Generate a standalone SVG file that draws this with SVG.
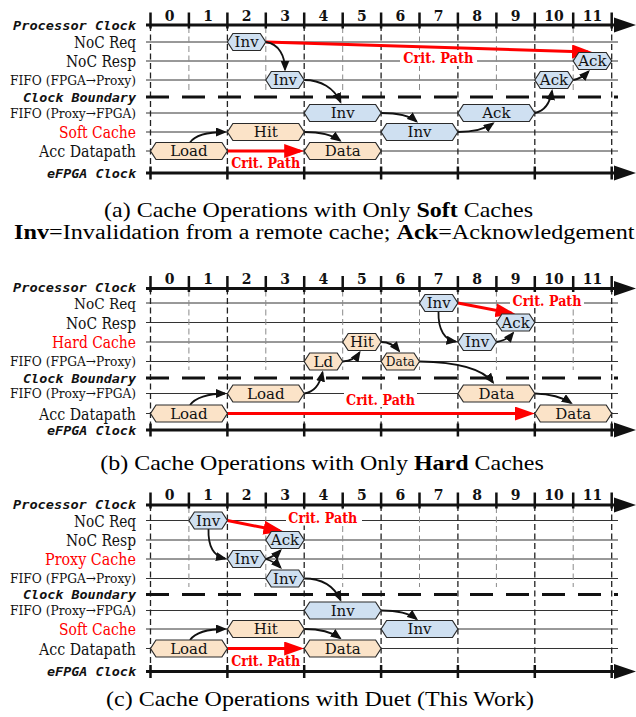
<svg xmlns="http://www.w3.org/2000/svg" width="636" height="717" viewBox="0 0 636 717">
<defs>
<style>
.row{stroke:#333;stroke-width:1;fill:none}
.vd{stroke:#222;stroke-width:1.3;stroke-dasharray:6 3.5;fill:none}
.vo{stroke:#8a8a8a;stroke-width:1;stroke-dasharray:6 3.5;fill:none}
.cb{stroke:#111;stroke-width:3;stroke-dasharray:23 13;fill:none}
.ax{stroke:#111;stroke-width:3;fill:none}
.tk{stroke:#111;stroke-width:2.5;fill:none}
.ah{fill:#111}
.lbl{font-family:"DejaVu Serif","Liberation Serif",serif;font-size:16px;fill:#111;text-anchor:end}
.fifo{font-size:13px}
.tight{font-size:15px}
.redt{fill:#f00}
.mono{font-family:"DejaVu Sans Mono","Liberation Mono",monospace;font-style:oblique;font-weight:bold;font-size:12.5px;fill:#111;text-anchor:end}
.num{font-family:"DejaVu Serif","Liberation Serif",serif;font-weight:bold;font-size:14px;fill:#111;text-anchor:middle}
.blue{fill:#cfe0f1;stroke:#2a2a2a;stroke-width:1.2}
.tan{fill:#fbe3c8;stroke:#2a2a2a;stroke-width:1.2}
.nt{font-family:"DejaVu Serif","Liberation Serif",serif;font-size:15px;fill:#111;text-anchor:middle}
.sm{font-size:12.5px}
.crit{font-family:"DejaVu Serif","Liberation Serif",serif;font-weight:bold;font-size:14px;fill:#f00;text-anchor:middle}
.bg{fill:#fff}
.cap{font-family:"Liberation Serif","Times New Roman",serif;font-size:20px;fill:#000;text-anchor:middle}
.arr{fill:none;stroke:#111;stroke-width:1.8;marker-end:url(#ab)}
.red{fill:none;stroke:#f00;stroke-width:3;marker-end:url(#ar)}
</style>
<marker id="ab" markerUnits="userSpaceOnUse" markerWidth="11" markerHeight="9" refX="9" refY="4.5" orient="auto"><path d="M0,0 L11,4.5 L0,9 z" fill="#111"/></marker>
<marker id="ar" markerUnits="userSpaceOnUse" markerWidth="20" markerHeight="14" refX="16" refY="7" orient="auto"><path d="M0,0 L20,7 L0,14 z" fill="#f00"/></marker>
</defs>
<rect x="0" y="0" width="636" height="717" fill="#fff"/>

<!-- ===== Panel (a) ===== -->
<g id="grid-a">
<path class="row" d="M146,42H618 M146,61H618 M146,80H618 M146,113H618 M146,132H618 M146,151H618"/>
<path class="vo" d="M188.9,27V90 M265.8,27V90 M342.7,27V90 M419.5,27V90 M496.4,27V90 M573.2,27V90"/>
<path class="vd" d="M150.5,25V173 M227.4,25V173 M304.2,25V173 M381.1,25V173 M457.9,25V173 M534.8,25V173 M611.7,25V173"/>
<path class="cb" d="M146,97H618"/>
<path class="ax" d="M146,25H616 M146,173H616"/>
<polygon class="ah" points="614,17.5 636,25 614,32.5"/>
<polygon class="ah" points="614,165.5 636,173 614,180.5"/>
<path class="tk" d="M150.5,12.5V28.5 M188.9,12.5V28.5 M227.4,12.5V28.5 M265.8,12.5V28.5 M304.2,12.5V28.5 M342.7,12.5V28.5 M381.1,12.5V28.5 M419.5,12.5V28.5 M457.9,12.5V28.5 M496.4,12.5V28.5 M534.8,12.5V28.5 M573.2,12.5V28.5 M611.7,12.5V28.5"/>
<path class="tk" d="M150.5,166.5V179.5 M227.4,166.5V179.5 M304.2,166.5V179.5 M381.1,166.5V179.5 M457.9,166.5V179.5 M534.8,166.5V179.5 M611.7,166.5V179.5"/>
<g class="num">
<text x="169.7" y="20.5">0</text><text x="208.1" y="20.5">1</text><text x="246.6" y="20.5">2</text><text x="285" y="20.5">3</text><text x="323.4" y="20.5">4</text><text x="361.9" y="20.5">5</text><text x="400.3" y="20.5">6</text><text x="438.7" y="20.5">7</text><text x="477.1" y="20.5">8</text><text x="515.6" y="20.5">9</text><text x="554" y="20.5">10</text><text x="592.4" y="20.5">11</text>
</g>
<text class="mono" x="136" y="29.5" textLength="123" lengthAdjust="spacingAndGlyphs">Processor Clock</text>
<text class="lbl" x="136" y="48" textLength="62" lengthAdjust="spacingAndGlyphs">NoC Req</text>
<text class="lbl" x="136" y="67" textLength="70" lengthAdjust="spacingAndGlyphs">NoC Resp</text>
<text class="lbl fifo" x="136" y="84.8" textLength="126" lengthAdjust="spacingAndGlyphs">FIFO (FPGA→Proxy)</text>
<text class="mono" x="136" y="101.5" textLength="113" lengthAdjust="spacingAndGlyphs">Clock Boundary</text>
<text class="lbl fifo" x="136" y="117.8" textLength="126" lengthAdjust="spacingAndGlyphs">FIFO (Proxy→FPGA)</text>
<text class="lbl redt" x="136" y="138" textLength="77" lengthAdjust="spacingAndGlyphs">Soft Cache</text>
<text class="lbl" x="136" y="157" textLength="97" lengthAdjust="spacingAndGlyphs">Acc Datapath</text>
<text class="mono" x="136" y="177.5" textLength="89" lengthAdjust="spacingAndGlyphs">eFPGA Clock</text>
</g>

<g id="connectors-a">
<rect class="bg" x="400" y="50" width="77" height="16"/>
<path class="red" d="M266,42 L588,52"/>
<text class="crit" x="438.3" y="62.5" textLength="70" lengthAdjust="spacingAndGlyphs">Crit. Path</text>
<path class="red" d="M227.4,151 L300.2,151"/>
<text class="crit" x="265.7" y="168" textLength="69" lengthAdjust="spacingAndGlyphs">Crit. Path</text>
<path class="arr" d="M190,142.5 C195,135 208,132 225,132"/>
<path class="arr" d="M266,42 C279,44 285,56 285,69.5"/>
<path class="arr" d="M304.2,80 C321,80 334,88 340.5,102"/>
<path class="arr" d="M381.1,113 C397,113 409,115 416.5,121.5"/>
<path class="arr" d="M304.2,132 C318,132 331,134 340,140.5"/>
<path class="arr" d="M457.9,132 C474,132 485,129 493,123.5"/>
<path class="arr" d="M534.8,113 C545,111 550,103 552,91"/>
<path class="arr" d="M573.2,80 C580,79 584,76 588.5,71.5"/>
</g>

<g id="a-inv-req"><polygon class="blue" points="227.4,42 232.9,33.5 260.3,33.5 265.8,42 260.3,50.5 232.9,50.5"/><text class="nt" x="246.6" y="47.3">Inv</text></g>
<g id="a-inv-f2p"><polygon class="blue" points="265.8,80 271.3,71.5 298.7,71.5 304.2,80 298.7,88.5 271.3,88.5"/><text class="nt" x="285" y="85.3">Inv</text></g>
<g id="a-inv-p2f"><polygon class="blue" points="304.2,113 309.7,104.5 375.6,104.5 381.1,113 375.6,121.5 309.7,121.5"/><text class="nt" x="342.7" y="118.3">Inv</text></g>
<g id="a-inv-soft"><polygon class="blue" points="381.1,132 386.6,123.5 452.4,123.5 457.9,132 452.4,140.5 386.6,140.5"/><text class="nt" x="419.5" y="137.3">Inv</text></g>
<g id="a-ack-p2f"><polygon class="blue" points="457.9,113 463.4,104.5 529.3,104.5 534.8,113 529.3,121.5 463.4,121.5"/><text class="nt" x="496.4" y="118.3">Ack</text></g>
<g id="a-ack-f2p"><polygon class="blue" points="534.8,80 540.3,71.5 567.7,71.5 573.2,80 567.7,88.5 540.3,88.5"/><text class="nt" x="554" y="85.3">Ack</text></g>
<g id="a-ack-resp"><polygon class="blue" points="573.2,61 578.7,52.5 606.2,52.5 611.7,61 606.2,69.5 578.7,69.5"/><text class="nt" x="592.4" y="66.3">Ack</text></g>
<g id="a-load"><polygon class="tan" points="150.5,151 156,142.5 221.9,142.5 227.4,151 221.9,159.5 156,159.5"/><text class="nt" x="188.9" y="156.3">Load</text></g>
<g id="a-hit"><polygon class="tan" points="227.4,132 232.9,123.5 298.7,123.5 304.2,132 298.7,140.5 232.9,140.5"/><text class="nt" x="265.8" y="137.3">Hit</text></g>
<g id="a-data"><polygon class="tan" points="304.2,151 309.7,142.5 375.6,142.5 381.1,151 375.6,159.5 309.7,159.5"/><text class="nt" x="342.7" y="156.3">Data</text></g>

<text class="cap" transform="translate(318.5,216.7) scale(1.2,1)">(a) Cache Operations with Only <tspan font-weight="bold">Soft</tspan> Caches</text>
<text class="cap" transform="translate(324.3,239) scale(1.21,1)"><tspan font-weight="bold">Inv</tspan>=Invalidation from a remote cache; <tspan font-weight="bold">Ack</tspan>=Acknowledgement</text>

<!-- ===== Panel (b) ===== -->
<g id="grid-b">
<path class="row" d="M146,303H618 M146,322.5H618 M146,342H618 M146,361.5H618 M146,393.5H618 M146,413.5H618"/>
<path class="vo" d="M188.9,290.5V370 M265.8,290.5V370 M342.7,290.5V370 M419.5,290.5V370 M496.4,290.5V370 M573.2,290.5V370"/>
<path class="vd" d="M150.5,288.5V430 M227.4,288.5V430 M304.2,288.5V430 M381.1,288.5V430 M457.9,288.5V430 M534.8,288.5V430 M611.7,288.5V430"/>
<path class="cb" d="M146,378H618"/>
<path class="ax" d="M146,288.5H616 M146,430H616"/>
<polygon class="ah" points="614,281 636,288.5 614,296"/>
<polygon class="ah" points="614,422.5 636,430 614,437.5"/>
<path class="tk" d="M150.5,276V292 M188.9,276V292 M227.4,276V292 M265.8,276V292 M304.2,276V292 M342.7,276V292 M381.1,276V292 M419.5,276V292 M457.9,276V292 M496.4,276V292 M534.8,276V292 M573.2,276V292 M611.7,276V292"/>
<path class="tk" d="M150.5,423.5V436.5 M227.4,423.5V436.5 M304.2,423.5V436.5 M381.1,423.5V436.5 M457.9,423.5V436.5 M534.8,423.5V436.5 M611.7,423.5V436.5"/>
<g class="num">
<text x="169.7" y="284">0</text><text x="208.1" y="284">1</text><text x="246.6" y="284">2</text><text x="285" y="284">3</text><text x="323.4" y="284">4</text><text x="361.9" y="284">5</text><text x="400.3" y="284">6</text><text x="438.7" y="284">7</text><text x="477.1" y="284">8</text><text x="515.6" y="284">9</text><text x="554" y="284">10</text><text x="592.4" y="284">11</text>
</g>
<text class="mono" x="136" y="292" textLength="123" lengthAdjust="spacingAndGlyphs">Processor Clock</text>
<text class="lbl tight" x="136" y="309" textLength="62" lengthAdjust="spacingAndGlyphs">NoC Req</text>
<text class="lbl" x="136" y="328.5" textLength="70" lengthAdjust="spacingAndGlyphs">NoC Resp</text>
<text class="lbl redt" x="136" y="348" textLength="84" lengthAdjust="spacingAndGlyphs">Hard Cache</text>
<text class="lbl fifo" x="136" y="366.3" textLength="126" lengthAdjust="spacingAndGlyphs">FIFO (FPGA→Proxy)</text>
<text class="mono" x="136" y="382.5" textLength="113" lengthAdjust="spacingAndGlyphs">Clock Boundary</text>
<text class="lbl fifo" x="136" y="398.3" textLength="126" lengthAdjust="spacingAndGlyphs">FIFO (Proxy→FPGA)</text>
<text class="lbl" x="136" y="419.5" textLength="97" lengthAdjust="spacingAndGlyphs">Acc Datapath</text>
<text class="mono" x="136" y="434.5" textLength="89" lengthAdjust="spacingAndGlyphs">eFPGA Clock</text>
</g>

<g id="connectors-b">
<rect class="bg" x="510" y="292" width="74" height="16"/>
<path class="red" d="M457.9,303 L511.5,313.3"/>
<text class="crit" x="547" y="305.5" textLength="69" lengthAdjust="spacingAndGlyphs">Crit. Path</text>
<rect class="bg" x="344" y="392" width="73" height="15"/>
<path class="red" d="M227.4,413.5 L530.8,413.5"/>
<text class="crit" x="380.5" y="405" textLength="69" lengthAdjust="spacingAndGlyphs">Crit. Path</text>
<path class="arr" d="M190,405 C195,398 208,393.5 225,393.5"/>
<path class="arr" d="M304.2,393.5 C315,392 320,384 322.5,372.5"/>
<path class="arr" d="M342.7,361.5 C350,361 356,358 359.5,352.5"/>
<path class="arr" d="M381.1,342 C390,342 395,346 399,351"/>
<path class="arr" d="M419.5,361.5 C455,362 482,368 493,382.5"/>
<path class="arr" d="M534.8,393.5 C550,394 562,397 571,403"/>
<path class="arr" d="M438.5,312 C438,330 445,340 455.5,341.5"/>
<path class="arr" d="M496.4,342 C503,341 509,338 513,333"/>
</g>

<g id="b-load-acc"><polygon class="tan" points="150.5,413.5 156,405 221.9,405 227.4,413.5 221.9,422 156,422"/><text class="nt" x="188.9" y="418.8">Load</text></g>
<g id="b-load-p2f"><polygon class="tan" points="227.4,393.5 232.9,385 298.7,385 304.2,393.5 298.7,402 232.9,402"/><text class="nt" x="265.8" y="398.8">Load</text></g>
<g id="b-ld"><polygon class="tan" points="304.2,361.5 309.7,353 337.2,353 342.7,361.5 337.2,370 309.7,370"/><text class="nt" x="323.4" y="366.8">Ld</text></g>
<g id="b-hit"><polygon class="tan" points="342.7,342 348.2,333.5 375.6,333.5 381.1,342 375.6,350.5 348.2,350.5"/><text class="nt" x="361.9" y="347.3">Hit</text></g>
<g id="b-data-f2p"><polygon class="tan" points="381.1,361.5 386.6,353 414,353 419.5,361.5 414,370 386.6,370"/><text class="nt sm" x="400.3" y="366" textLength="29" lengthAdjust="spacingAndGlyphs">Data</text></g>
<g id="b-inv-req"><polygon class="blue" points="419.5,303 425,294.5 452.4,294.5 457.9,303 452.4,311.5 425,311.5"/><text class="nt" x="438.7" y="308.3">Inv</text></g>
<g id="b-inv-hard"><polygon class="blue" points="457.9,342 463.4,333.5 490.9,333.5 496.4,342 490.9,350.5 463.4,350.5"/><text class="nt" x="477.1" y="347.3">Inv</text></g>
<g id="b-ack-resp"><polygon class="blue" points="496.4,322.5 501.9,314 529.3,314 534.8,322.5 529.3,331 501.9,331"/><text class="nt" x="515.6" y="327.8">Ack</text></g>
<g id="b-data-p2f"><polygon class="tan" points="457.9,393.5 463.4,385 529.3,385 534.8,393.5 529.3,402 463.4,402"/><text class="nt" x="496.4" y="398.8">Data</text></g>
<g id="b-data-acc"><polygon class="tan" points="534.8,413.5 540.3,405 606.2,405 611.7,413.5 606.2,422 540.3,422"/><text class="nt" x="573.2" y="418.8">Data</text></g>

<text class="cap" transform="translate(322,469.5) scale(1.2,1)">(b) Cache Operations with Only <tspan font-weight="bold">Hard</tspan> Caches</text>

<!-- ===== Panel (c) ===== -->
<g id="grid-c">
<path class="row" d="M146,520.5H618 M146,540H618 M146,559H618 M146,578.5H618 M146,610.5H618 M146,629H618 M146,648.5H618"/>
<path class="vo" d="M188.9,507V587 M265.8,507V587 M342.7,507V587 M419.5,507V587 M496.4,507V587 M573.2,507V587"/>
<path class="vd" d="M150.5,505V671.5 M227.4,505V671.5 M304.2,505V671.5 M381.1,505V671.5 M457.9,505V671.5 M534.8,505V671.5 M611.7,505V671.5"/>
<path class="cb" d="M146,594.5H618"/>
<path class="ax" d="M146,505H616 M146,671.5H616"/>
<polygon class="ah" points="614,497.5 636,505 614,512.5"/>
<polygon class="ah" points="614,664 636,671.5 614,679"/>
<path class="tk" d="M150.5,492.5V508.5 M188.9,492.5V508.5 M227.4,492.5V508.5 M265.8,492.5V508.5 M304.2,492.5V508.5 M342.7,492.5V508.5 M381.1,492.5V508.5 M419.5,492.5V508.5 M457.9,492.5V508.5 M496.4,492.5V508.5 M534.8,492.5V508.5 M573.2,492.5V508.5 M611.7,492.5V508.5"/>
<path class="tk" d="M150.5,665V678 M227.4,665V678 M304.2,665V678 M381.1,665V678 M457.9,665V678 M534.8,665V678 M611.7,665V678"/>
<g class="num">
<text x="169.7" y="500">0</text><text x="208.1" y="500">1</text><text x="246.6" y="500">2</text><text x="285" y="500">3</text><text x="323.4" y="500">4</text><text x="361.9" y="500">5</text><text x="400.3" y="500">6</text><text x="438.7" y="500">7</text><text x="477.1" y="500">8</text><text x="515.6" y="500">9</text><text x="554" y="500">10</text><text x="592.4" y="500">11</text>
</g>
<text class="mono" x="136" y="509" textLength="123" lengthAdjust="spacingAndGlyphs">Processor Clock</text>
<text class="lbl" x="136" y="526.5" textLength="62" lengthAdjust="spacingAndGlyphs">NoC Req</text>
<text class="lbl" x="136" y="546" textLength="70" lengthAdjust="spacingAndGlyphs">NoC Resp</text>
<text class="lbl redt" x="136" y="565" textLength="91" lengthAdjust="spacingAndGlyphs">Proxy Cache</text>
<text class="lbl fifo" x="136" y="583.3" textLength="126" lengthAdjust="spacingAndGlyphs">FIFO (FPGA→Proxy)</text>
<text class="mono" x="136" y="599" textLength="113" lengthAdjust="spacingAndGlyphs">Clock Boundary</text>
<text class="lbl fifo" x="136" y="615.3" textLength="126" lengthAdjust="spacingAndGlyphs">FIFO (Proxy→FPGA)</text>
<text class="lbl redt" x="136" y="635" textLength="77" lengthAdjust="spacingAndGlyphs">Soft Cache</text>
<text class="lbl" x="136" y="654.5" textLength="97" lengthAdjust="spacingAndGlyphs">Acc Datapath</text>
<text class="mono" x="136" y="676" textLength="89" lengthAdjust="spacingAndGlyphs">eFPGA Clock</text>
</g>

<g id="connectors-c">
<rect class="bg" x="286" y="509.5" width="76" height="16"/>
<path class="red" d="M227.4,520.5 L279.5,530.8"/>
<text class="crit" x="322.8" y="523.3" textLength="69" lengthAdjust="spacingAndGlyphs">Crit. Path</text>
<path class="red" d="M227.4,648.5 L300.2,648.5"/>
<text class="crit" x="265.7" y="666" textLength="69" lengthAdjust="spacingAndGlyphs">Crit. Path</text>
<path class="arr" d="M208.5,529 C208,545 213,556 225,558.5"/>
<path class="arr" d="M265.8,559 C272,557 277,554 280.5,550.5"/>
<path class="arr" d="M265.8,559 C272,561 277,564 280.5,567.5"/>
<path class="arr" d="M304.2,578.5 C321,578.5 334,586 340.5,600"/>
<path class="arr" d="M381.1,610.5 C397,610.5 409,613 416.5,619"/>
<path class="arr" d="M190,640 C195,633 208,629 225,629"/>
<path class="arr" d="M304.2,629 C318,629 331,631.5 340,638"/>
</g>

<g id="c-inv-req"><polygon class="blue" points="188.9,520.5 194.4,512 221.9,512 227.4,520.5 221.9,529 194.4,529"/><text class="nt" x="208.1" y="525.8">Inv</text></g>
<g id="c-ack-resp"><polygon class="blue" points="265.8,540 271.3,531.5 298.7,531.5 304.2,540 298.7,548.5 271.3,548.5"/><text class="nt" x="285" y="545.3">Ack</text></g>
<g id="c-inv-proxy"><polygon class="blue" points="227.4,559 232.9,550.5 260.3,550.5 265.8,559 260.3,567.5 232.9,567.5"/><text class="nt" x="246.6" y="564.3">Inv</text></g>
<g id="c-inv-f2p"><polygon class="blue" points="265.8,578.5 271.3,570 298.7,570 304.2,578.5 298.7,587 271.3,587"/><text class="nt" x="285" y="583.8">Inv</text></g>
<g id="c-inv-p2f"><polygon class="blue" points="304.2,610.5 309.7,602 375.6,602 381.1,610.5 375.6,619 309.7,619"/><text class="nt" x="342.7" y="615.8">Inv</text></g>
<g id="c-inv-soft"><polygon class="blue" points="381.1,629 386.6,620.5 452.4,620.5 457.9,629 452.4,637.5 386.6,637.5"/><text class="nt" x="419.5" y="634.3">Inv</text></g>
<g id="c-load"><polygon class="tan" points="150.5,648.5 156,640 221.9,640 227.4,648.5 221.9,657 156,657"/><text class="nt" x="188.9" y="653.8">Load</text></g>
<g id="c-hit"><polygon class="tan" points="227.4,629 232.9,620.5 298.7,620.5 304.2,629 298.7,637.5 232.9,637.5"/><text class="nt" x="265.8" y="634.3">Hit</text></g>
<g id="c-data"><polygon class="tan" points="304.2,648.5 309.7,640 375.6,640 381.1,648.5 375.6,657 309.7,657"/><text class="nt" x="342.7" y="653.8">Data</text></g>

<text class="cap" transform="translate(320,705.5) scale(1.2,1)">(c) Cache Operations with Duet (This Work)</text>
</svg>
